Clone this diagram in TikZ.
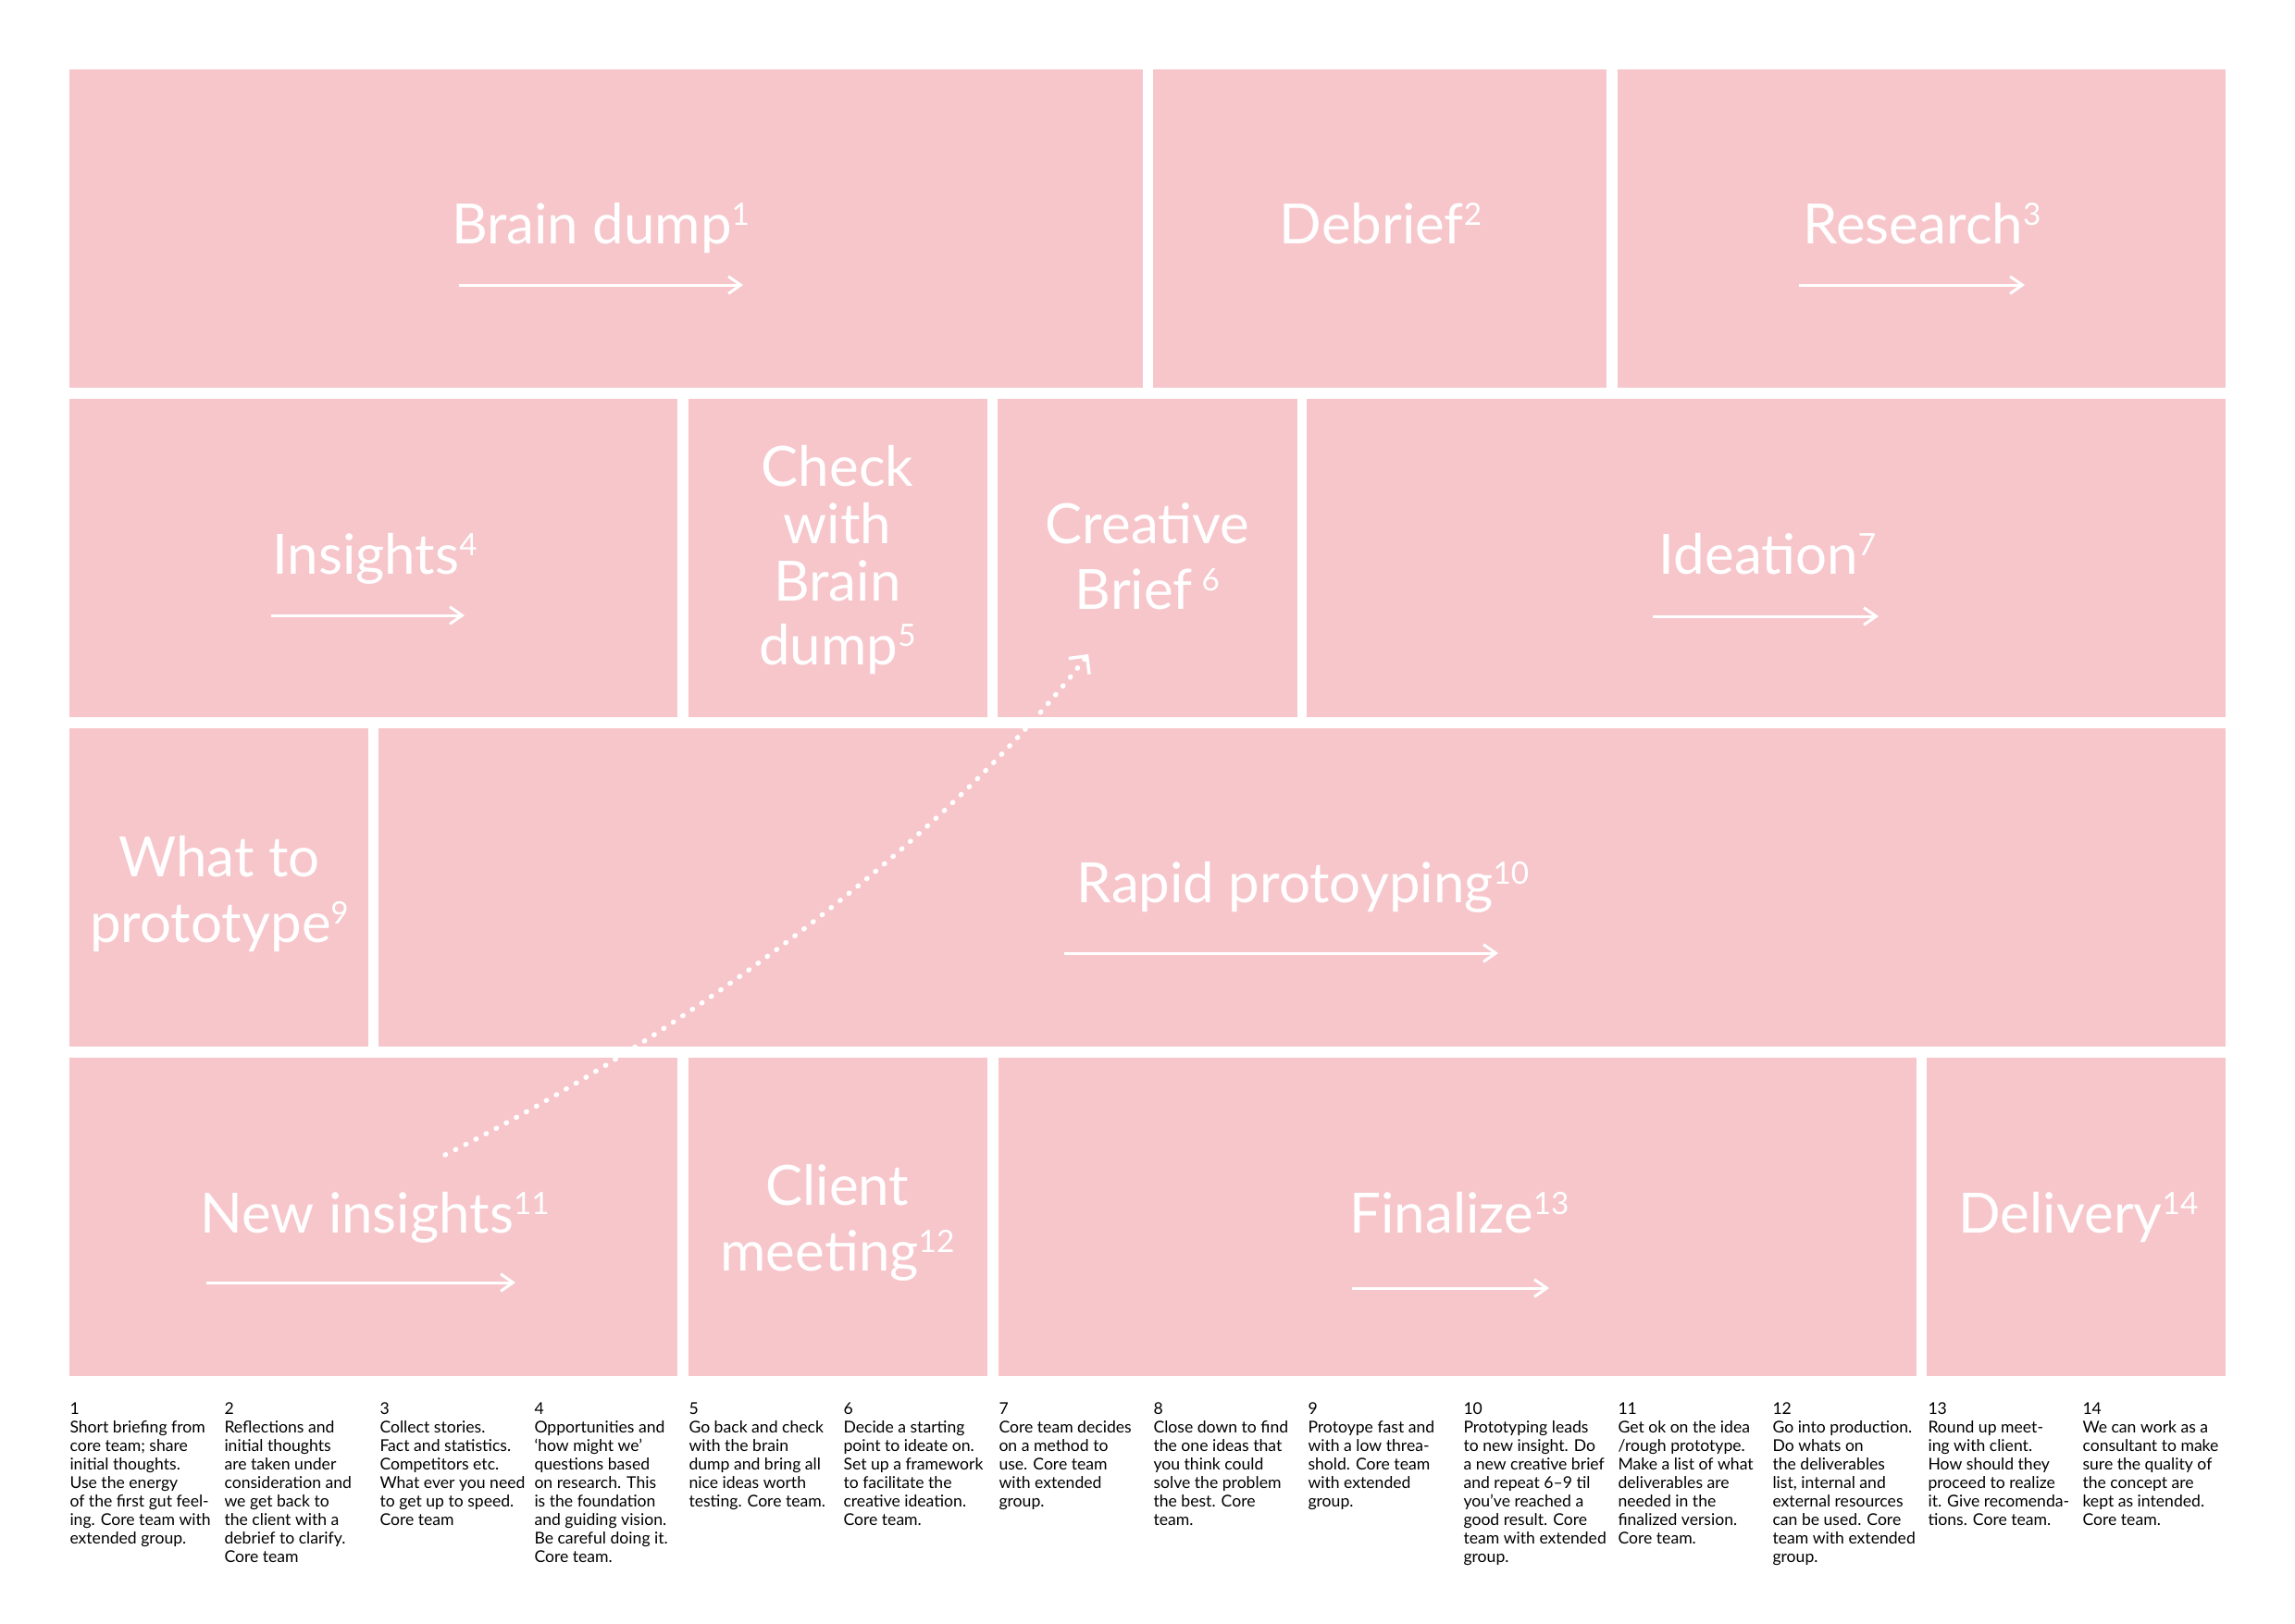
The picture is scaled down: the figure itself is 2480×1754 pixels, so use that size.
\documentclass[tikz,border=0pt]{standalone}
\usepackage{fontspec}
\setmainfont{Lato}
\usetikzlibrary{arrows.meta}

\definecolor{stagepink}{RGB}{246,198,203}
\newcommand{\stagefont}{\fontsize{45}{53}\selectfont}
\newcommand{\notefont}{\fontsize{13.2}{15}\selectfont}
\newcommand{\stagesup}[1]{\raisebox{15pt}{\fontsize{25}{25}\selectfont #1}}

\tikzset{every picture/.style={line width=0.75pt}}
\tikzset{
  stagebox/.style={fill=stagepink},
  stagelabel/.style={text=white, font=\stagefont, align=center, anchor=base, inner sep=0pt},
  flowarrow/.style={draw=white, line width=2.25pt, -{Straight Barb[length=10pt,width=14pt]}},
  loopback/.style={draw=white, line width=4pt, line cap=round, dash pattern=on 0.5pt off 8.8pt, -{Straight Barb[length=10.5pt,width=21pt,line width=2.6pt]}},
  stepnote/.style={anchor=base west, align=left, inner sep=0pt, font=\notefont},
}

\begin{document}
\begin{tikzpicture}[x=0.75pt,y=0.75pt,yscale=-1,xscale=1]
\path[use as bounding box, fill=white] (0,0) rectangle (2480,1754);

%Rectangles: first row
\fill[stagebox] (75,75) rectangle (1235,419);
\fill[stagebox] (1246,75) rectangle (1736,419);
\fill[stagebox] (1748,75) rectangle (2405,419);
%Rectangles: second row
\fill[stagebox] (75,431) rectangle (732,775);
\fill[stagebox] (744,431) rectangle (1067,775);
\fill[stagebox] (1078,431) rectangle (1402,775);
\fill[stagebox] (1412,431) rectangle (2405,775);
%Rectangles: third row
\fill[stagebox] (75,787) rectangle (398,1131);
\fill[stagebox] (409,787) rectangle (2405,1131);
%Rectangles: fourth row
\fill[stagebox] (75,1143) rectangle (732,1487);
\fill[stagebox] (744,1143) rectangle (1067,1487);
\fill[stagebox] (1079,1143) rectangle (2071,1487);
\fill[stagebox] (2082,1143) rectangle (2405,1487);

%Stage labels (multi-line ones sit on their last baseline)
\node[stagelabel] (braindump) at (649,263) {Brain dump\stagesup{1}};
\node[stagelabel] (debrief) at (1492,263) {Debrief\stagesup{2}};
\node[stagelabel] (research) at (2077,263) {Research\stagesup{3}};
\node[stagelabel] (insights) at (405,620) {Insights\stagesup{4}};
\node[stagelabel, font=\fontsize{45}{46.5}\selectfont] (checkdump) at (905,718) {Check\\with\\Brain\\[5pt]dump\stagesup{5}};
\node[stagelabel] (creativebrief) at (1240,658) {Creative\\Brief\,\stagesup{6}};
\node[stagelabel] (ideation) at (1910,620) {Ideation\stagesup{7}};
\node[stagelabel] (whattoproto) at (237,1018) {What to\\prototype\stagesup{9}};
\node[stagelabel] (rapidproto) at (1408,975) {Rapid protoyping\stagesup{10}};
\node[stagelabel] (newinsights) at (405,1332) {New insights\stagesup{11}};
\node[stagelabel] (clientmeeting) at (905,1373) {Client\\meeting\stagesup{12}};
\node[stagelabel] (finalize) at (1577,1332) {Finalize\stagesup{13}};
\node[stagelabel] (delivery) at (2246,1332) {Delivery\stagesup{14}};

%Straight Lines: flow arrows
\draw[flowarrow] (496,308) -- (803,308);
\draw[flowarrow] (1944,308) -- (2188,308);
\draw[flowarrow] (293,665) -- (502,665);
\draw[flowarrow] (1786,666) -- (2030,666);
\draw[flowarrow] (1150,1030) -- (1619,1030);
\draw[flowarrow] (223,1386) -- (557,1386);
\draw[flowarrow] (1461,1392) -- (1674,1392);

%Curve: back to the creative brief
\coordinate (loopstart) at (481,1248);
\coordinate (loopend) at (1176,707);
\draw[loopback] (loopstart) .. controls (731,1123) and (1016,915) .. (loopend);

%Notes (placed on the baseline of their last line)
\node[stepnote] (note1) at (75,1668) {1\\Short briefing from\\core team; share\\initial thoughts.\\Use the energy\\of the first gut feel-\\ing. Core team with\\extended group.};
\node[stepnote] (note2) at (242,1688) {2\\Reflections and\\initial thoughts\\are taken under\\consideration and\\we get back to\\the client with a\\debrief to clarify.\\Core team};
\node[stepnote] (note3) at (410,1648) {3\\Collect stories.\\Fact and statistics.\\Competitors etc.\\What ever you need\\to get up to speed.\\Core team};
\node[stepnote] (note4) at (577,1688) {4\\Opportunities and\\‘how might we’\\questions based\\on research. This\\is the foundation\\and guiding vision.\\Be careful doing it.\\Core team.};
\node[stepnote] (note5) at (744,1628) {5\\Go back and check\\with the brain\\dump and bring all\\nice ideas worth\\testing. Core team.};
\node[stepnote] (note6) at (911,1648) {6\\Decide a starting\\point to ideate on.\\Set up a framework\\to facilitate the\\creative ideation.\\Core team.};
\node[stepnote] (note7) at (1079,1628) {7\\Core team decides\\on a method to\\use. Core team\\with extended\\group.};
\node[stepnote] (note8) at (1246,1648) {8\\Close down to find\\the one ideas that\\you think could\\solve the problem\\the best. Core\\team.};
\node[stepnote] (note9) at (1413,1628) {9\\Protoype fast and\\with a low threa-\\shold. Core team\\with extended\\group.};
\node[stepnote] (note10) at (1581,1688) {10\\Prototyping leads\\to new insight. Do\\a new creative brief\\and repeat 6–9 til\\you’ve reached a\\good result. Core\\team with extended\\group.};
\node[stepnote] (note11) at (1748,1668) {11\\Get ok on the idea\\/rough prototype.\\Make a list of what\\deliverables are\\needed in the\\finalized version.\\Core team.};
\node[stepnote] (note12) at (1915,1688) {12\\Go into production.\\Do whats on\\the deliverables\\list, internal and\\external resources\\can be used. Core\\team with extended\\group.};
\node[stepnote] (note13) at (2083,1648) {13\\Round up meet-\\ing with client.\\How should they\\proceed to realize\\it. Give recomenda-\\tions. Core team.};
\node[stepnote] (note14) at (2250,1648) {14\\We can work as a\\consultant to make\\sure the quality of\\the concept are\\kept as intended.\\Core team.};

\end{tikzpicture}
\end{document}
